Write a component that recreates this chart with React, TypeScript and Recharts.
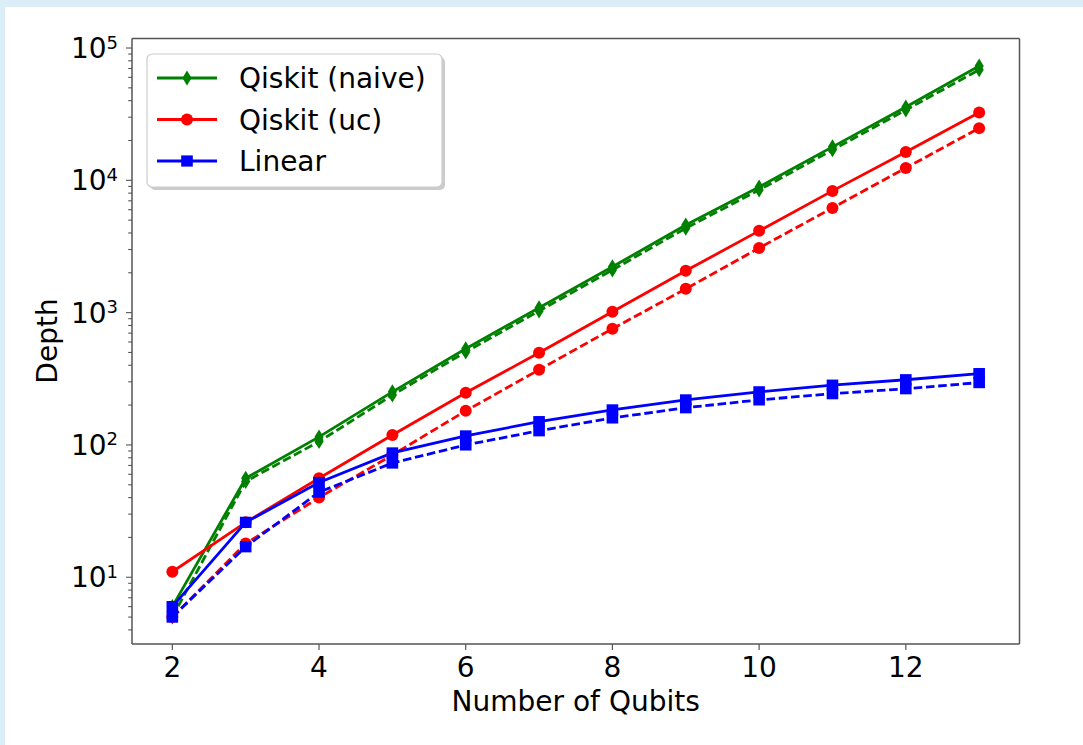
import { LineChart, Line, XAxis, YAxis, ReferenceLine } from 'recharts'

// number of qubits on the x axis
const qubits = [2, 3, 4, 5, 6, 7, 8, 9, 10, 11, 12, 13]

// circuit depth, solid = first variant, dashed = second variant
const naiveSolid = [6, 56, 115, 252, 533, 1090, 2220, 4600, 8900, 17900, 35800, 73000]
const naiveDashed = [5, 53, 106, 238, 505, 1030, 2100, 4350, 8450, 17000, 34000, 68500]
const ucSolid = [11, 26, 56, 119, 248, 497, 1014, 2070, 4150, 8320, 16400, 32500]
const ucDashed = [5, 18, 40, 84, 181, 370, 755, 1513, 3080, 6190, 12400, 24800]
const linearSolid = [6, 26, 52, 87, 117, 150, 184, 219, 252, 283, 311, 346]
const linearDashed = [5, 17, 44, 73, 100, 128, 160, 191, 219, 244, 266, 296]

const xDomain = [1.45, 13.55]
const yDomain = [3.13, 118000]

const xTicks = [2, 4, 6, 8, 10, 12]
const yMajor = [10, 100, 1000, 10000, 100000]
const yExponents = ['1', '2', '3', '4', '5']
const yMinor: number[] = []
for (let k = 0; k <= 4; k++) {
  for (let m = 2; m <= 9; m++) {
    const v = m * Math.pow(10, k)
    if (v >= yDomain[0] && v <= yDomain[1]) yMinor.push(v)
  }
}

const legendLabels = ['Qiskit (naive)', 'Qiskit (uc)', 'Linear']
const legendColors = ['#008000', '#ff0000', '#0000ff']
const legendShapes = ['diamond', 'circle', 'square']

const data = qubits.map((q, i) => ({
  q,
  naive: naiveSolid[i],
  naiveD: naiveDashed[i],
  uc: ucSolid[i],
  ucD: ucDashed[i],
  lin: linearSolid[i],
  linD: linearDashed[i],
}))

const FONT = 'DejaVu Sans'
const FRAME = '#555'
const DASH = '8.6 3.7'
const LW = 2.8

function marker(shape: string, color: string, cx: number, cy: number, key?: string) {
  if (shape === 'diamond')
    return (
      <path key={key} d={`M${cx},${cy - 7.5}L${cx + 4.6},${cy}L${cx},${cy + 7.5}L${cx - 4.6},${cy}Z`} fill={color} />
    )
  if (shape === 'circle') return <circle key={key} cx={cx} cy={cy} r={6} fill={color} />
  return <rect key={key} x={cx - 5.8} y={cy - 5.6} width={11.6} height={11.2} fill={color} />
}

const dotFor = (shape: string, color: string) => (p: any) => {
  if (p.cx == null || p.cy == null) return <g key={p.key} />
  return marker(shape, color, p.cx, p.cy, `${shape}-${p.key ?? p.index}`)
}

const XTick = (p: any) => {
  const { x, y, payload } = p
  return (
    <g>
      <line x1={x} x2={x} y1={y} y2={y + 6} stroke={FRAME} strokeWidth={1.2} />
      <text x={x} y={y + 33} textAnchor="middle" fontSize={28} fontFamily={FONT} fill="#000">
        {payload.value}
      </text>
    </g>
  )
}

const YTick = (p: any) => {
  const { x, y, payload } = p
  const idx = yMajor.indexOf(payload.value)
  const major = idx >= 0
  return (
    <g>
      <line x1={x} x2={x - (major ? 6 : 3.8)} y1={y} y2={y} stroke={FRAME} strokeWidth={1.1} />
      {major && (
        <text x={x - 14} y={y + 10} textAnchor="end" fontSize={28} fontFamily={FONT} fill="#000">
          <tspan>10</tspan>
          <tspan dy={-9.5} fontSize={18}>{yExponents[idx]}</tspan>
        </text>
      )}
    </g>
  )
}

function Overlay() {
  const rows = [78, 119.5, 161]
  return (
    <svg width={1083} height={745} style={{ position: 'absolute', left: 0, top: 0, pointerEvents: 'none' }}>
      <text transform="translate(57, 341) rotate(-90)" textAnchor="middle" fontSize={28} fontFamily={FONT} fill="#000">
        Depth
      </text>
      <text x={575.7} y={711} textAnchor="middle" fontSize={28} fontFamily={FONT} fill="#000">
        Number of Qubits
      </text>
      <rect x={150} y={57} width={295} height={133} rx={5} fill="#999" opacity={0.5} />
      <rect x={147} y={54} width={295} height={133} rx={5} fill="#fff" stroke="#ccc" strokeWidth={1.2} />
      {legendLabels.map((label, i) => (
        <g key={label}>
          <line x1={157} x2={217} y1={rows[i]} y2={rows[i]} stroke={legendColors[i]} strokeWidth={LW} />
          {marker(legendShapes[i], legendColors[i], 187, rows[i])}
          <text x={239} y={rows[i] + 10} fontSize={28} fontFamily={FONT} fill="#000">
            {label}
          </text>
        </g>
      ))}
    </svg>
  )
}

export default function App() {
  const series = [
    { key: 'naive', color: legendColors[0], shape: 'diamond', dashed: false },
    { key: 'naiveD', color: legendColors[0], shape: 'diamond', dashed: true },
    { key: 'uc', color: legendColors[1], shape: 'circle', dashed: false },
    { key: 'ucD', color: legendColors[1], shape: 'circle', dashed: true },
    { key: 'lin', color: legendColors[2], shape: 'square', dashed: false },
    { key: 'linD', color: legendColors[2], shape: 'square', dashed: true },
  ]
  return (
    <div style={{ position: 'absolute', left: 0, top: 0, width: 1083, height: 745, background: '#dbedf7', overflow: 'hidden' }}>
      <div style={{ position: 'absolute', left: 5, top: 7, right: 0, bottom: 0, background: '#fff' }} />
      <div style={{ position: 'absolute', left: 0, top: 0 }}>
        <LineChart width={1083} height={745} data={data} margin={{ top: 38.5, right: 63.5, bottom: 0, left: 0 }}>
          <XAxis
            dataKey="q"
            type="number"
            domain={xDomain}
            allowDataOverflow
            ticks={xTicks}
            interval={0}
            height={101}
            tickSize={0}
            tickMargin={0}
            tickLine={false}
            tick={<XTick />}
            axisLine={{ stroke: FRAME, strokeWidth: 1.5 }}
          />
          <YAxis
            scale="log"
            type="number"
            domain={yDomain}
            allowDataOverflow
            ticks={[...yMinor, ...yMajor]}
            interval={0}
            width={132}
            tickSize={0}
            tickMargin={0}
            tickLine={false}
            tick={<YTick />}
            axisLine={{ stroke: FRAME, strokeWidth: 1.5 }}
          />
          <ReferenceLine x={xDomain[1]} stroke={FRAME} strokeWidth={1.5} />
          <ReferenceLine y={yDomain[1]} stroke={FRAME} strokeWidth={1.5} />
          {series.map(s => (
            <Line
              key={s.key}
              type="linear"
              dataKey={s.key}
              stroke={s.color}
              strokeWidth={LW}
              strokeDasharray={s.dashed ? DASH : undefined}
              dot={dotFor(s.shape, s.color)}
              activeDot={false}
              isAnimationActive={false}
            />
          ))}
        </LineChart>
        <Overlay />
      </div>
    </div>
  )
}
